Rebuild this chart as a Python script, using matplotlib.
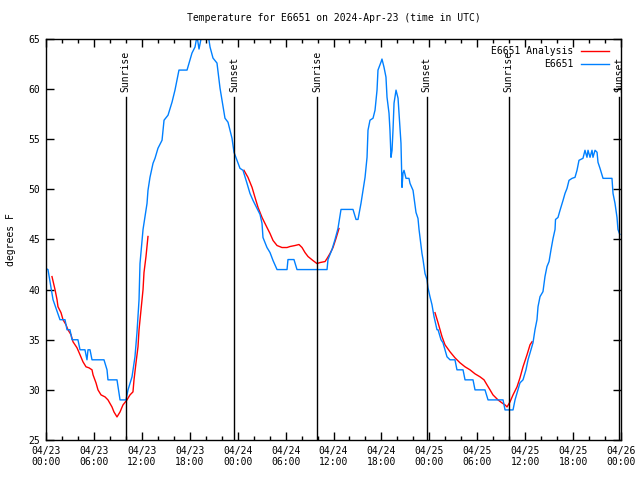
import numpy as np
import matplotlib.pyplot as plt
from matplotlib.ticker import MultipleLocator

# hours since 2024-04-23 00:00 UTC
obs_h = [0.0, 0.25, 0.88, 1.75, 2.38, 2.63, 3.0, 3.26, 4.0, 4.26, 4.88, 5.13, 5.26, 5.51, 5.76,
         7.26, 7.64, 7.76, 8.89, 9.27, 10.02, 10.27, 10.77, 11.14, 11.39, 11.65, 11.77, 12.15,
         12.65, 12.77, 13.02, 13.40, 13.65, 14.02, 14.53, 14.78, 15.28, 15.78, 16.15, 16.65,
         17.66, 18.28, 18.66, 18.91, 19.16, 19.53, 20.29, 20.54, 20.91, 21.41, 21.79, 22.41,
         22.79, 23.29, 23.54, 23.92, 24.29, 24.67, 25.17, 25.54, 25.92, 26.42, 26.80, 27.05,
         27.17, 27.67, 28.05, 28.43, 28.93, 30.18, 30.30, 31.05, 31.43, 35.19, 35.31, 35.81,
         36.19, 36.56, 36.94, 38.44, 38.82, 39.07, 39.44, 39.69, 39.95, 40.20, 40.32, 40.57,
         40.95, 41.20, 41.45, 41.57, 41.95, 42.07, 42.32, 42.57, 42.70, 42.95, 43.07, 43.20,
         43.33, 43.45, 43.58, 43.83, 44.08, 44.20, 44.45, 44.58, 44.70, 44.83, 45.08, 45.45,
         45.58, 45.96, 46.08, 46.33, 46.58, 46.71, 47.08, 47.21, 47.46, 47.71, 47.83, 48.08,
         48.33, 48.59, 48.96, 49.09, 49.46, 49.71, 49.96, 50.21, 50.59, 51.21, 51.46, 52.22,
         52.47, 53.47, 53.72, 54.97, 55.35, 57.23, 57.48, 58.48, 58.73, 58.98, 59.35, 59.73,
         60.10, 60.36, 60.73, 60.98, 61.23, 61.48, 61.61, 61.86, 62.23, 62.48, 62.73, 62.99,
         63.24, 63.49, 63.74, 63.80, 64.11, 64.36, 64.74, 64.99, 65.24, 65.49, 65.87, 66.24,
         66.49, 66.74, 67.24, 67.49, 67.74, 67.87, 68.12, 68.37, 68.49, 68.75, 69.00, 69.12,
         69.37, 69.75, 70.87, 71.0, 71.25, 71.50, 71.62, 71.85]
obs_t = [42.1, 42, 39, 37, 37, 36, 36, 35, 35, 34, 34, 33, 34, 34, 33,
         33, 32, 31, 31, 29, 29, 30, 31.3, 33.3, 35.7, 39, 42.6, 46,
         48.6, 49.9, 51.2, 52.6, 53.1, 54.1, 54.9, 56.9, 57.4, 58.7, 59.9, 61.9,
         61.9, 63.6, 64.2, 65.3, 64, 65.5, 65.5, 64.2, 63.1, 62.6, 60.1, 57.1,
         56.7, 55.1, 53.7, 52.9, 52.1, 51.9, 50.6, 49.6, 48.9, 48.1, 47.5, 46.6,
         45.2, 44.2, 43.7, 42.9, 42, 42, 43, 43, 42, 42, 43, 44,
         45, 46.1, 48, 48, 47, 47, 48.6, 49.9, 51.2, 53.2, 55.9, 56.9,
         57.1, 57.9, 59.9, 61.9, 62.7, 63, 62.2, 61.2, 59.2, 57.6, 55.9, 53.2,
         53.9, 55.9, 58.6, 59.9, 59.1, 57.6, 54.6, 50.2, 51.6, 51.9, 51.1, 51.1,
         50.6, 49.9, 49.2, 47.7, 47.1, 46, 43.6, 43, 41.6, 41, 40.2, 39.3,
         38.5, 37.3, 36, 36, 35, 34.7, 34, 33.3, 33, 33, 32, 32,
         31, 31, 30, 30, 29, 29, 28, 28, 29, 29.7, 30.7, 31,
         32, 33, 34, 34.7, 36, 37, 38.3, 39.3, 39.8, 41.3, 42.3, 42.8,
         44, 45.1, 46, 47, 47.2, 47.9, 48.9, 49.6, 50.1, 50.9, 51.1, 51.2,
         51.9, 52.9, 53.1, 53.9, 53.2, 53.9, 53.2, 53.9, 53.2, 53.9, 53.7, 52.7,
         52.1, 51.1, 51.1, 49.6, 48.6, 47.2, 46, 45.5]

an1_h = [0.75, 1.13, 1.38, 1.50, 1.88, 2.13, 2.50, 2.75, 3.13, 3.38, 3.88, 4.26, 4.63, 5.01,
         5.38, 5.76, 5.89, 6.26, 6.51, 6.89, 7.39, 7.76, 8.26, 8.51, 8.89, 9.27, 9.64, 10.14,
         10.52, 10.89, 11.02, 11.27, 11.52, 11.65, 11.90, 12.15, 12.27, 12.52, 12.77]
an1_t = [41.3, 40, 39, 38.3, 37.7, 37, 36.5, 36, 35.5, 34.8, 34.2, 33.5, 32.8, 32.3,
         32.2, 32, 31.5, 30.7, 30, 29.5, 29.3, 29, 28.3, 27.8, 27.3, 27.8, 28.5, 29,
         29.5, 29.8, 31, 32.7, 34.3, 36, 38, 40, 41.7, 43.3, 45.3]
an2_h = [24.79, 25.29, 25.80, 26.17, 26.55, 27.05, 27.67, 28.05, 28.43, 28.93, 29.55, 30.18,
         30.55, 31.18, 31.68, 32.06, 32.43, 32.81, 33.43, 33.93, 34.31, 34.94, 35.19, 35.56,
         35.94, 36.31, 36.69]
an2_t = [51.9, 51.2, 50.2, 49.2, 48.2, 47.2, 46.2, 45.6, 44.9, 44.4, 44.2, 44.2,
         44.3, 44.4, 44.5, 44.2, 43.7, 43.3, 42.9, 42.6, 42.7, 42.8, 43.1, 43.6,
         44.2, 45.1, 46.1]
an3_h = [48.71, 49.09, 49.59, 49.96, 50.59, 51.21, 51.84, 52.47, 53.09, 53.72, 54.35, 54.85,
         55.22, 55.60, 55.97, 56.60, 57.10, 57.48, 57.73, 58.10, 58.48, 58.98, 59.35, 59.73,
         60.23, 60.61, 60.86]
an3_t = [37.7, 36.7, 35.3, 34.5, 33.8, 33.2, 32.7, 32.3, 32, 31.6, 31.3, 31,
         30.5, 30, 29.5, 29, 28.7, 28.5, 28.3, 28.8, 29.5, 30.3, 31.2, 32.3,
         33.5, 34.5, 34.8]

sun_h = [9.97, 23.58, 33.97, 47.68, 57.95, 71.77]
sun_lbl = ['Sunrise', 'Sunset', 'Sunrise', 'Sunset', 'Sunrise', 'Sunset']

xtick_h = list(range(0, 73, 6))
xtick_lbl = ['04/23\n00:00', '04/23\n06:00', '04/23\n12:00', '04/23\n18:00',
             '04/24\n00:00', '04/24\n06:00', '04/24\n12:00', '04/24\n18:00',
             '04/25\n00:00', '04/25\n06:00', '04/25\n12:00', '04/25\n18:00',
             '04/26\n00:00']

plt.rcParams['font.family'] = 'DejaVu Sans Mono'
plt.rcParams['font.size'] = 7

fig = plt.figure(figsize=(6.4, 4.8), dpi=100)
ax = fig.add_axes([46/640, 40/480, 575/640, 401/480])

an_line, = ax.plot(an1_h, an1_t, color='#ff0000', lw=1.0, label='E6651 Analysis')
ax.plot(an2_h, an2_t, color='#ff0000', lw=1.0)
ax.plot(an3_h, an3_t, color='#ff0000', lw=1.0)
obs_line, = ax.plot(obs_h, obs_t, color='#0080ff', lw=1.0, label='E6651')

for h, lbl in zip(sun_h, sun_lbl):
    ax.plot([h, h], [25, 59.2], color='black', lw=1.0)
    ax.text(h, 59.7, lbl, rotation=90, ha='center', va='bottom', fontsize=7)

ax.set_xlim(0, 72)
ax.set_ylim(25, 65)
ax.set_xticks(xtick_h)
ax.set_xticklabels(xtick_lbl)
ax.xaxis.set_minor_locator(MultipleLocator(2))
ax.set_yticks(range(25, 66, 5))
ax.tick_params(which='both', direction='in', top=True, right=True, width=1)
ax.tick_params(which='major', length=6, pad=4)
ax.tick_params(which='minor', length=3)
for s in ax.spines.values():
    s.set_linewidth(1.0)

ax.set_title('Temperature for E6651 on 2024-Apr-23 (time in UTC)', fontsize=7, pad=13)
ax.set_ylabel('degrees F')
ax.yaxis.set_label_coords(-0.052, 0.5)

ax.legend(handles=[an_line, obs_line], loc='upper right', bbox_to_anchor=(0.986, 0.992),
          frameon=False, markerfirst=False, handlelength=2.9, borderaxespad=0.0,
          labelspacing=0.35, handletextpad=0.8)

fig.savefig('out.png', dpi=100)
